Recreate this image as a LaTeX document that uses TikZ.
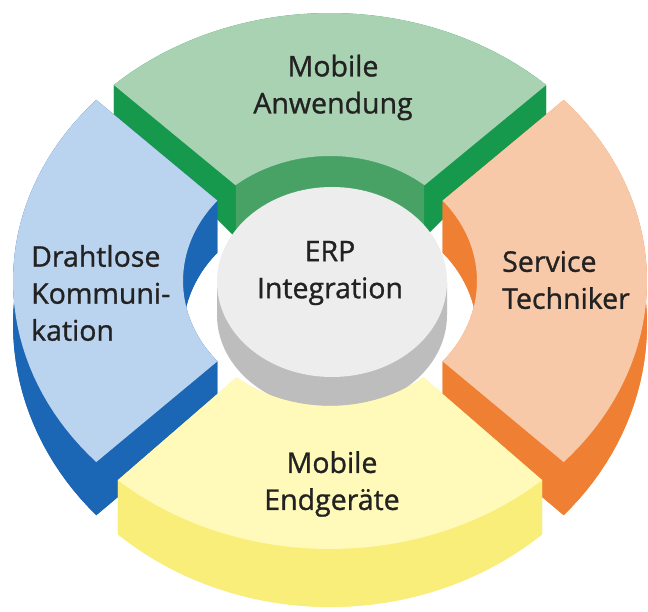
\documentclass[tikz,border=0pt]{standalone}
\usepackage{fontspec}
\setmainfont{Open Sans}
\newfontfamily\schildfont{Open Sans}[FakeBold=1]
\definecolor{gruenhell}{HTML}{A9D2B3}
\definecolor{gruendunkel}{HTML}{16994C}
\definecolor{gruenmitte}{HTML}{48A266}
\definecolor{blauhell}{HTML}{BAD3EE}
\definecolor{blaudunkel}{HTML}{1B66B5}
\definecolor{orangehell}{HTML}{F8C9A9}
\definecolor{orangedunkel}{HTML}{EF8033}
\definecolor{gelbhell}{HTML}{FFFABA}
\definecolor{gelbdunkel}{HTML}{FAEE7A}
\definecolor{grauhell}{HTML}{EDEDED}
\definecolor{graudunkel}{HTML}{BDBDBD}
\definecolor{schrift}{HTML}{222222}
% #1,#2 outer angles, #3,#4 inner angles, #5 top, #6 side, #7 inner wall
\newcommand{\ringteil}[7]{%
	\fill[#6] plot[variable=\t,domain=#1:#2,samples=40] ({ox(\t)},{oy(\t)-od(\t)}) -- plot[variable=\t,domain=#4:#3,samples=30] ({ix(\t)},{iy(\t)-52}) -- cycle;
	\fill[#6] plot[variable=\t,domain=#1:#2,samples=40] ({ox(\t)},{oy(\t)}) -- plot[variable=\t,domain=#2:#1,samples=40] ({ox(\t)},{oy(\t)-od(\t)}) -- cycle;
	\fill[#7] plot[variable=\t,domain=#3:#4,samples=30] ({ix(\t)},{iy(\t)}) -- plot[variable=\t,domain=#4:#3,samples=30] ({ix(\t)},{iy(\t)-52}) -- cycle;
	\fill[#6] ({ox(#1)},{oy(#1)}) -- ({ix(#3)},{iy(#3)}) -- ({ix(#3)},{iy(#3)-52}) -- ({ox(#1)},{oy(#1)-od(#1)}) -- cycle;
	\fill[#6] ({ox(#2)},{oy(#2)}) -- ({ix(#4)},{iy(#4)}) -- ({ix(#4)},{iy(#4)-52}) -- ({ox(#2)},{oy(#2)-od(#2)}) -- cycle;
	\fill[#5] plot[variable=\t,domain=#1:#2,samples=40] ({ox(\t)},{oy(\t)}) -- plot[variable=\t,domain=#4:#3,samples=30] ({ix(\t)},{iy(\t)}) -- cycle;
}

\begin{document}
\begin{tikzpicture}[x=1pt,y=1pt,line join=round,
		declare function={ox(\t)=330+317*cos(\t); oy(\t)=330+268*sin(\t);
			ix(\t)=330+147*cos(\t); iy(\t)=330+125*sin(\t); od(\t)=43-15*sin(\t);},
		schild/.style={text=schrift,font=\schildfont\fontsize{28.5}{37}\selectfont,align=center,inner sep=0pt}]
	\useasboundingbox (0,0) rectangle (648,611);
	\fill[white] (0,0) rectangle (648,611);
	% ring segments, back to front
	\ringteil{47}{133}{50}{130}{gruenhell}{gruendunkel}{gruenmitte}
	\ringteil{137.5}{222.5}{140}{220}{blauhell}{blaudunkel}{blaudunkel}
	\ringteil{-42.5}{42.5}{-40}{40}{orangehell}{orangedunkel}{orangedunkel}
	% centre cylinder
	\fill[graudunkel] (217,329) -- (217,296) arc[start angle=180,end angle=360,x radius=115,y radius=95] -- (447,329) -- cycle;
	\fill[grauhell] (332,329) ellipse [x radius=115,y radius=95];
	\ringteil{228}{312}{230.5}{309.5}{gelbhell}{gelbdunkel}{gelbdunkel}
	% labels
	\node[schild] (anwendung) at (333,523.5) {Mobile\\Anwendung};
	\node[schild] (erp) at (330,338) {ERP\\Integration};
	\node[schild,anchor=west,align=left] (funk) at (31,318) {Drahtlose\\Kommuni-\\kation};
	\node[schild,anchor=west,align=left] (techniker) at (502,331) {Service\\Techniker};
	\node[schild] (endgeraete) at (332,127) {Mobile\\Endgeräte};
\end{tikzpicture}
\end{document}
